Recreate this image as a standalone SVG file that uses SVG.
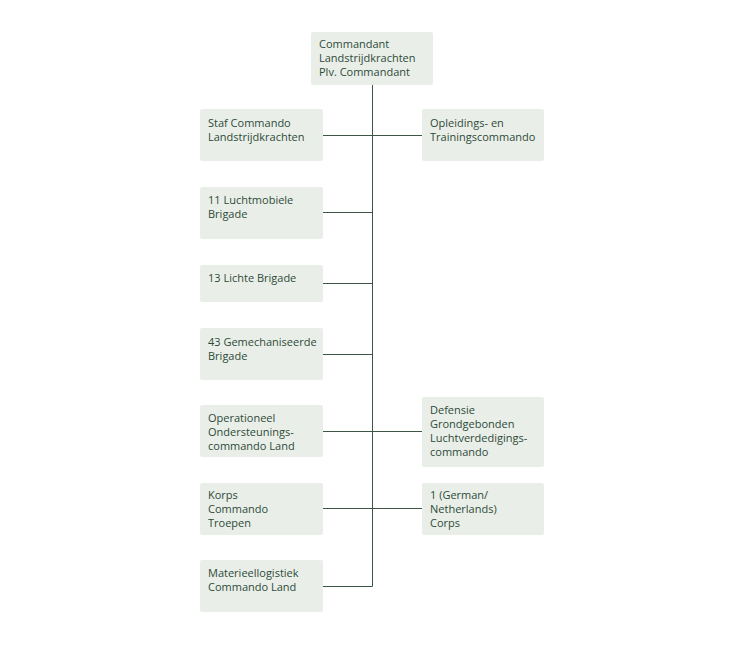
<svg xmlns="http://www.w3.org/2000/svg" width="735" height="655" viewBox="0 0 735 655">
<style>
.b{fill:#e9efe8;}
text{font-family:"Open Sans","Liberation Sans",sans-serif;font-size:11px;fill:#2e4a38;}
.c{stroke:#3d5545;stroke-width:1;fill:none;}
</style>
<rect width="735" height="655" fill="#fff"/>
<g id="connectors" class="c">
<path d="M372.5 85V586.5"/>
<path d="M323 135.5H422"/>
<path d="M323 212.5H372.5"/>
<path d="M323 283.5H372.5"/>
<path d="M323 354.5H372.5"/>
<path d="M323 431.5H422"/>
<path d="M323 508.5H422"/>
<path d="M323 586.5H372.5"/>
</g>
<g id="n0"><rect class="b" x="311" y="32" width="122" height="53" rx="2"/><text x="319" y="48">Commandant</text><text x="319" y="62">Landstrijdkrachten</text><text x="319" y="76">Plv. Commandant</text></g>
<g id="n1"><rect class="b" x="200" y="109" width="123" height="52" rx="2"/><text x="208" y="127">Staf Commando</text><text x="208" y="141">Landstrijdkrachten</text></g>
<g id="n2"><rect class="b" x="422" y="109" width="122" height="52" rx="2"/><text x="430" y="127">Opleidings- en</text><text x="430" y="141">Trainingscommando</text></g>
<g id="n3"><rect class="b" x="200" y="187" width="123" height="52" rx="2"/><text x="208" y="204">11 Luchtmobiele</text><text x="208" y="218">Brigade</text></g>
<g id="n4"><rect class="b" x="200" y="265" width="123" height="37" rx="2"/><text x="208" y="282">13 Lichte Brigade</text></g>
<g id="n5"><rect class="b" x="200" y="328" width="123" height="52" rx="2"/><text x="208" y="346">43 Gemechaniseerde</text><text x="208" y="360">Brigade</text></g>
<g id="n6"><rect class="b" x="200" y="405" width="123" height="52" rx="2"/><text x="208" y="422">Operationeel</text><text x="208" y="436">Ondersteunings-</text><text x="208" y="450">commando Land</text></g>
<g id="n7"><rect class="b" x="422" y="397" width="122" height="70" rx="2"/><text x="430" y="414">Defensie</text><text x="430" y="428">Grondgebonden</text><text x="430" y="442">Luchtverdedigings-</text><text x="430" y="456">commando</text></g>
<g id="n8"><rect class="b" x="200" y="483" width="123" height="52" rx="2"/><text x="208" y="499">Korps</text><text x="208" y="513">Commando</text><text x="208" y="527">Troepen</text></g>
<g id="n9"><rect class="b" x="422" y="483" width="122" height="52" rx="2"/><text x="430" y="499">1 (German/</text><text x="430" y="513">Netherlands)</text><text x="430" y="527">Corps</text></g>
<g id="n10"><rect class="b" x="200" y="560" width="123" height="52" rx="2"/><text x="208" y="577">Materieellogistiek</text><text x="208" y="591">Commando Land</text></g>
</svg>
